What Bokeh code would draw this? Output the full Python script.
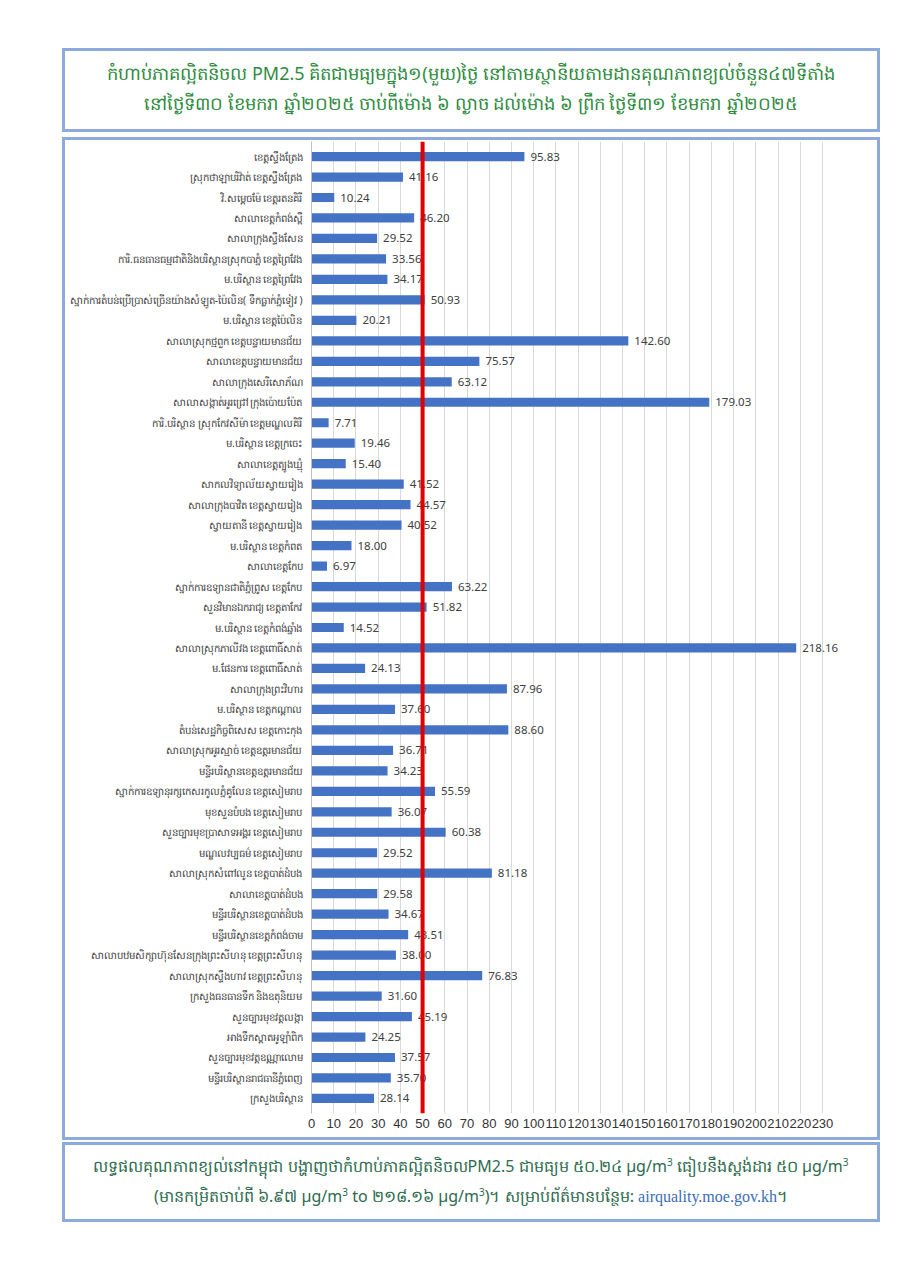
from bokeh.plotting import figure
from bokeh.models import ColumnDataSource, Range1d, FactorRange, Span, Div, FixedTicker
from bokeh.layouts import column
from bokeh.embed import file_html
from bokeh.resources import INLINE
from bokeh.core.properties import value

stations = [
    "ខេត្តស្ទឹងត្រែង",
    "ស្រុកថាឡាបរិវ៉ាត់ ខេត្តស្ទឹងត្រែង",
    "វិ.សម្តេចម៉ែ ខេត្តរតនគិរី",
    "សាលាខេត្តកំពង់ស្ពឺ",
    "សាលាក្រុងស្ទឹងសែន",
    "ការិ.ធនធានធម្មជាតិនិងបរិស្ថានស្រុកបាភ្នំ ខេត្តព្រៃវែង",
    "ម.បរិស្ថាន ខេត្តព្រៃវែង",
    "ស្នាក់ការតំបន់ប្រើប្រាស់ច្រើនយ៉ាងសំឡូត-ប៉ៃលិន( ទឹកធ្លាក់ភ្នំទៀវ )",
    "ម.បរិស្ថាន ខេត្តប៉ៃលិន",
    "សាលាស្រុកថ្មពួក ខេត្តបន្ទាយមានជ័យ",
    "សាលាខេត្តបន្ទាយមានជ័យ",
    "សាលាក្រុងសេរីសោភ័ណ",
    "សាលាសង្កាត់អូរជ្រៅ ក្រុងប៉ោយប៉ែត",
    "ការិ.បរិស្ថាន ស្រុកកែវសីម៉ា ខេត្តមណ្ឌលគិរី",
    "ម.បរិស្ថាន ខេត្តក្រចេះ",
    "សាលាខេត្តត្បូងឃ្មុំ",
    "សាកលវិទ្យាល័យស្វាយរៀង",
    "សាលាក្រុងបាវិត ខេត្តស្វាយរៀង",
    "ស្វាយតានី ខេត្តស្វាយរៀង",
    "ម.បរិស្ថាន ខេត្តកំពត",
    "សាលាខេត្តកែប",
    "ស្នាក់ការឧទ្យានជាតិភ្នំព្រូស ខេត្តកែប",
    "សួនវិមានឯករាជ្យ ខេត្តតាកែវ",
    "ម.បរិស្ថាន ខេត្តកំពង់ឆ្នាំង",
    "សាលាស្រុកភាលីវង ខេត្តពោធិ៍សាត់",
    "ម.ផែនការ ខេត្តពោធិ៍សាត់",
    "សាលាក្រុងព្រះវិហារ",
    "ម.បរិស្ថាន ខេត្តកណ្តាល",
    "តំបន់សេដ្ឋកិច្ចពិសេស ខេត្តកោះកុង",
    "សាលាស្រុកអូរស្មាច់ ខេត្តឧត្តរមានជ័យ",
    "មន្ទីរបរិស្ថានខេត្តឧត្តរមានជ័យ",
    "ស្នាក់ការឧទ្យានុរក្សកេសរកូលភ្នំគូលែន ខេត្តសៀមរាប",
    "មុខសួនបំបង ខេត្តសៀមរាប",
    "សួនច្បារមុខប្រាសាទអង្គរ ខេត្តសៀមរាប",
    "មណ្ឌលវប្បធម៌ ខេត្តសៀមរាប",
    "សាលាស្រុកសំពៅលូន ខេត្តបាត់ដំបង",
    "សាលាខេត្តបាត់ដំបង",
    "មន្ទីរបរិស្ថានខេត្តបាត់ដំបង",
    "មន្ទីរបរិស្ថានខេត្តកំពង់ចាម",
    "សាលាបឋមសិក្សាហ៊ុនសែនក្រុងព្រះសីហនុ ខេត្តព្រះសីហនុ",
    "សាលាស្រុកស្ទឹងហាវ ខេត្តព្រះសីហនុ",
    "ក្រសួងធនធានទឹក និងឧតុនិយម",
    "សួនច្បារមុខវត្តលង្កា",
    "អាងទឹកស្តាតអូឡាំពិក",
    "សួនច្បារមុខវត្តឧណ្ណាលោម",
    "មន្ទីរបរិស្ថានរាជធានីភ្នំពេញ",
    "ក្រសួងបរិស្ថាន",
]

pm25 = [95.83, 41.16, 10.24, 46.20, 29.52, 33.56, 34.17, 50.93, 20.21, 142.60,
        75.57, 63.12, 179.03, 7.71, 19.46, 15.40, 41.52, 44.57, 40.52, 18.00,
        6.97, 63.22, 51.82, 14.52, 218.16, 24.13, 87.96, 37.60, 88.60, 36.71,
        34.23, 55.59, 36.07, 60.38, 29.52, 81.18, 29.58, 34.67, 43.51, 38.00,
        76.83, 31.60, 45.19, 24.25, 37.57, 35.70, 28.14]

x_ticks = list(range(0, 231, 10))
standard = 50

sup = "<sup style='font-size:10px;line-height:0'>3</sup>"
title_text = ("កំហាប់ភាគល្អិតនិចល PM2.5 គិតជាមធ្យមក្នុង១(មួយ)ថ្ងៃ នៅតាមស្ថានីយតាមដានគុណភាពខ្យល់ចំនួន៤៧ទីតាំង<br>"
              "នៅថ្ងៃទី៣០ ខែមករា ឆ្នាំ២០២៥ ចាប់ពីម៉ោង ៦ ល្ងាច ដល់ម៉ោង ៦ ព្រឹក ថ្ងៃទី៣១ ខែមករា ឆ្នាំ២០២៥")
footer_text = ("លទ្ធផលគុណភាពខ្យល់នៅកម្ពុជា បង្ហាញថាកំហាប់ភាគល្អិតនិចលPM2.5 ជាមធ្យម ៥០.២៤ µg/m" + sup +
               " ធៀបនឹងស្តង់ដារ ៥០ µg/m" + sup + "<br>"
               "(មានកម្រិតចាប់ពី ៦.៩៧ µg/m" + sup + " to ២១៨.១៦ µg/m" + sup + ")។ សម្រាប់ព័ត៌មានបន្ថែម: "
               "<span style='color:#3a6db5;font-family:\"Liberation Serif\",serif'>airquality.moe.gov.kh</span>។")

border = "3px solid #8eaadb"

title = Div(text=title_text, width=818, height=84, margin=(48, 0, 0, 62),
            styles={"border": border, "box-sizing": "border-box", "color": "#2e8b3e",
                    "font-family": "'Noto Sans', sans-serif", "font-size": "18px",
                    "text-align": "center", "line-height": "30px", "padding-top": "7px",
                    "background": "white"})

W, H = 818, 1003
mb_left, mb_right = 246, 6
x_end = 230 * (W - mb_left - mb_right) / 511.0

src = ColumnDataSource(dict(station=stations, pm=pm25,
                            lbl=["%.2f" % v for v in pm25]))

p = figure(width=W, height=H, output_backend="svg", toolbar_location=None,
           x_range=Range1d(0, x_end),
           y_range=FactorRange(factors=stations[::-1], range_padding=0.01),
           min_border_left=mb_left, min_border_right=mb_right, min_border_top=1,
           min_border_bottom=30, margin=(5, 0, 0, 62),
           styles={"border": border})
p.outline_line_color = None
p.hbar(y="station", right="pm", left=0, height=0.45, source=src,
       fill_color="#4472c4", line_color=None)
p.text(x="pm", y="station", text="lbl", source=src, x_offset=6,
       text_baseline="middle", text_align="left", text_font_size="11.5px",
       text_color="#404040", text_font=value("Noto Sans"))
p.add_layout(Span(location=standard, dimension="height", line_color="#e00000",
                  line_width=4))

p.xaxis.ticker = FixedTicker(ticks=x_ticks)
p.xaxis.axis_line_color = None
p.xaxis.major_tick_line_color = None
p.xaxis.minor_tick_line_color = None
p.xaxis.major_tick_out = 0
p.xaxis.major_label_text_font = "Liberation Sans"
p.xaxis.major_label_text_font_size = "13px"
p.xaxis.major_label_text_color = "#333333"
p.xaxis.major_label_standoff = 5

p.yaxis.axis_line_color = "#bfbfbf"
p.yaxis.major_tick_line_color = None
p.yaxis.minor_tick_line_color = None
p.yaxis.major_tick_out = 0
p.yaxis.major_label_text_font = "Noto Sans"
p.yaxis.major_label_text_font_size = "10.2px"
p.yaxis.major_label_text_color = "#404040"
p.yaxis.major_label_standoff = 9

p.xgrid.grid_line_color = "#d9d9d9"
p.ygrid.grid_line_color = None

footer = Div(text=footer_text, width=818, height=80, margin=(2, 0, 0, 62),
             styles={"border": border, "box-sizing": "border-box", "color": "#2d6b4e",
                     "font-family": "'Noto Sans', sans-serif", "font-size": "16px",
                     "text-align": "center", "line-height": "30px", "padding-top": "6px",
                     "background": "white"})

layout = column(title, p, footer)
open("out.html", "w").write(file_html(layout, INLINE))
